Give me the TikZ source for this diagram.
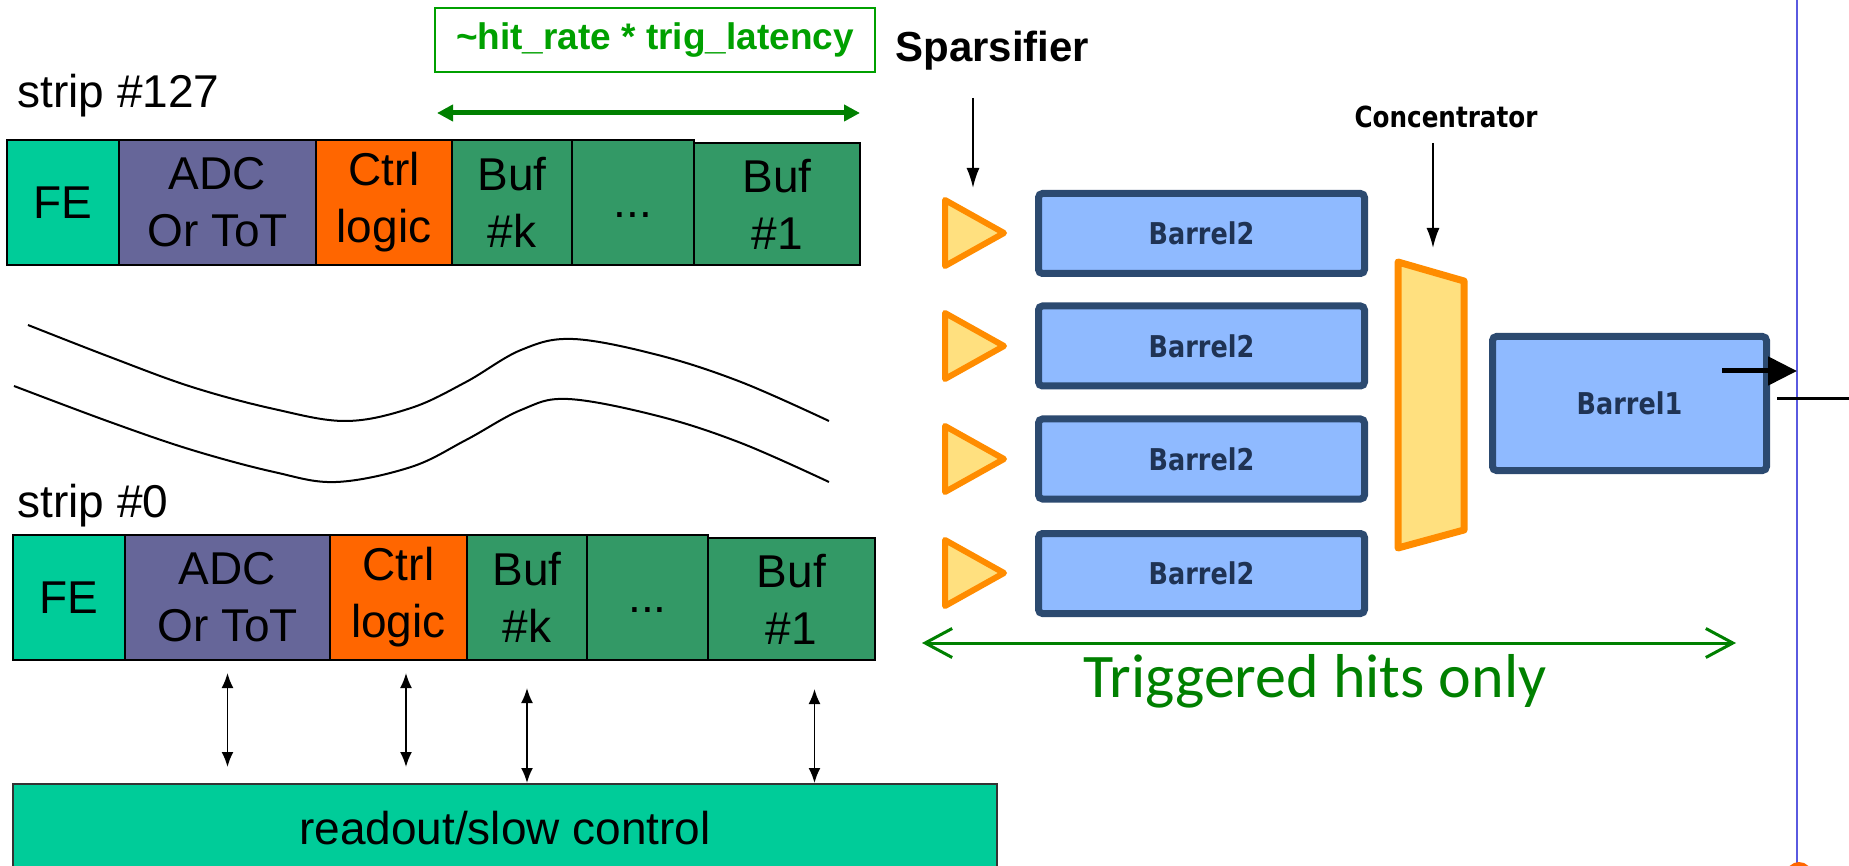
\documentclass[tikz,border=0pt]{standalone}
\usepackage{fontspec}
\setmainfont{Liberation Sans}
\newfontfamily\barrelfont[FakeStretch=0.85]{DejaVu Sans}
\newfontfamily\handfont{Carlito}
\usepackage{xcolor}
\definecolor{feGreen}{HTML}{00CC99}
\definecolor{adcPurple}{HTML}{666699}
\definecolor{ctrlOrange}{HTML}{FF6600}
\definecolor{bufGreen}{HTML}{339966}
\definecolor{latGreen}{HTML}{00A000}
\definecolor{trigGreen}{HTML}{008000}
\definecolor{ampEdge}{HTML}{FF8C00}
\definecolor{ampFill}{HTML}{FFE07F}
\definecolor{barrelEdge}{HTML}{2C4A70}
\definecolor{barrelFill}{HTML}{8FBAFF}
\definecolor{barrelText}{HTML}{1F3354}
\definecolor{guideBlue}{HTML}{5A5AE0}
\usepackage{tikz}
\usetikzlibrary{positioning,calc,arrows.meta}
\tikzset{%
  cellBox/.style={%
    rectangle,
    draw=black,
    line width=1pt,
    inner sep=0pt,
    outer sep=0pt,
    minimum height=62.5pt,
    align=center,
    font=\fontsize{23}{28.5}\selectfont
  },
  dotsText/.style={%
    text height=17pt,
    text depth=2pt
  },
  stripLabel/.style={%
    anchor=base west,
    inner sep=0pt,
    font=\fontsize{23}{28}\selectfont
  },
  latBox/.style={%
    rectangle,
    draw=latGreen,
    line width=1pt,
    inner sep=0pt,
    minimum width=220pt,
    minimum height=32pt,
    text=latGreen,
    font=\bfseries\fontsize{18.5}{22}\selectfont
  },
  barrelBox/.style={%
    rectangle,
    rounded corners=2pt,
    draw=barrelEdge,
    fill=barrelFill,
    line width=3.5pt,
    inner sep=0pt,
    minimum width=163pt,
    minimum height=40pt,
    text=barrelText,
    font=\barrelfont\bfseries\fontsize{15}{18}\selectfont
  },
  ampTri/.style={%
    draw=ampEdge,
    fill=ampFill,
    line width=3pt,
    line join=round
  },
  concShape/.style={%
    draw=ampEdge,
    fill=ampFill,
    line width=3.5pt,
    line join=round
  },
  readoutBox/.style={%
    rectangle,
    draw=black!80,
    line width=1pt,
    fill=feGreen,
    inner sep=0pt,
    minimum width=492pt,
    minimum height=50pt,
    text height=17.5pt,
    text depth=7.5pt,
    font=\fontsize{23}{28}\selectfont
  },
  waveLine/.style={%
    line width=1pt,
    draw=black
  },
  biArrow/.style={%
    {Latex[length=7.5pt,width=6pt]}-{Latex[length=7.5pt,width=6pt]},
    line width=0.9pt
  },
  latArrow/.style={%
    {Triangle[length=8pt,width=8pt]}-{Triangle[length=8pt,width=8pt]},
    line width=2.5pt,
    color=trigGreen
  },
  trigArrow/.style={%
    {Straight Barb[length=13.5pt,width=14.5pt]}-{Straight Barb[length=13.5pt,width=14.5pt]},
    line width=1.5pt,
    line cap=round,
    color=trigGreen
  },
  pointArrow/.style={%
    -{Latex[length=10pt,width=6.5pt]},
    line width=1pt
  },
  outArrow/.style={%
    -{Triangle[length=14.5pt,width=14pt]},
    line width=2.5pt
  }
}

\begin{document}
\begin{tikzpicture}[x=0.5pt, y=-0.5pt]
  \useasboundingbox (0,0) rectangle (1849,866);
  \clip (0,0) rectangle (1849,866);

  % strip #127
  \node[stripLabel] (lbl127) at (17,108) {strip \#127};
  \node[cellBox, fill=feGreen, minimum width=56pt, anchor=north west] (fe1) at (7,140) {FE};
  \node[cellBox, fill=adcPurple, minimum width=98.5pt, right=0pt of fe1] (adc1) {ADC\\Or ToT};
  \node[cellBox, fill=ctrlOrange, minimum width=68pt, right=0pt of adc1] (ctrl1) {Ctrl\\logic};
  \node[cellBox, fill=bufGreen, minimum width=60pt, right=0pt of ctrl1] (bufk1) {Buf\\\#k};
  \node[cellBox, dotsText, fill=bufGreen, minimum width=61pt, right=0pt of bufk1] (dots1) {...};
  \node[cellBox, fill=bufGreen, minimum width=83pt, minimum height=61pt, anchor=south west] (buf11) at (dots1.south east) {Buf\\\#1};

  % latency window
  \node[latBox] (latency) at (655,40.5) {\textasciitilde hit\_rate * trig\_latency};
  \coordinate (latL) at (437,113);
  \coordinate (latR) at (860,113);
  \draw[latArrow] (latL) -- (latR);

  % the strips in between
  \draw[waveLine] plot[smooth, tension=0.6] coordinates {(28,325) (110,357) (192,387) (274,409) (346,421) (411,408) (466,382) (521,350) (573,339) (658,355) (741,382) (829,421)};
  \draw[waveLine] plot[smooth, tension=0.6] coordinates {(14,386) (110,422) (192,450) (274,472) (336,482) (411,467) (466,440) (521,410) (568,399) (658,416) (741,443) (829,482)};

  % strip #0
  \node[stripLabel] (lbl0) at (17,517) {strip \#0};
  \node[cellBox, fill=feGreen, minimum width=56pt, anchor=north west] (fe0) at (13,535) {FE};
  \node[cellBox, fill=adcPurple, minimum width=102.5pt, right=0pt of fe0] (adc0) {ADC\\Or ToT};
  \node[cellBox, fill=ctrlOrange, minimum width=68.5pt, right=0pt of adc0] (ctrl0) {Ctrl\\logic};
  \node[cellBox, fill=bufGreen, minimum width=60pt, right=0pt of ctrl0] (bufk0) {Buf\\\#k};
  \node[cellBox, dotsText, fill=bufGreen, minimum width=60.5pt, right=0pt of bufk0] (dots0) {...};
  \node[cellBox, fill=bufGreen, minimum width=83.5pt, minimum height=61pt, anchor=south west] (buf10) at (dots0.south east) {Buf\\\#1};

  % readout
  \node[readoutBox, anchor=north west] (readout) at (12,783) {readout/slow control};
  \draw[biArrow] ($(adc0.south)+(0,-6.5pt)$) -- ($(adc0.south |- readout.north)+(0,8pt)$);
  \draw[biArrow] ($(ctrl0.south)+(3.75pt,-6.5pt)$) -- ($(ctrl0.south |- readout.north)+(3.75pt,8pt)$);
  \draw[biArrow] ($(bufk0.south)+(0,-14pt)$) -- (bufk0.south |- readout.north);
  \draw[biArrow] ($(buf10.south)+(11.5pt,-14.5pt)$) -- ($(buf10.south |- readout.north)+(11.5pt,0)$);

  % sparsifier side
  \node[anchor=base west, inner sep=0pt, font=\bfseries\fontsize{21}{25}\selectfont] (spars) at (895,62) {Sparsifier};
  \coordinate (sparsFrom) at (973,98);
  \coordinate (sparsTo) at (973,188);
  \draw[pointArrow] (sparsFrom) -- (sparsTo);

  \draw[ampTri] (945,200) -- (1004,233) -- (945,266) -- cycle;
  \draw[ampTri] (945,313) -- (1004,346) -- (945,379) -- cycle;
  \draw[ampTri] (945,426) -- (1004,459) -- (945,492) -- cycle;
  \draw[ampTri] (945,540) -- (1004,573) -- (945,606) -- cycle;

  \node[barrelBox] (b2a) at (1201.5,233.5) {Barrel2};
  \node[barrelBox] (b2b) at (1201.5,346) {Barrel2};
  \node[barrelBox] (b2c) at (1201.5,459) {Barrel2};
  \node[barrelBox] (b2d) at (1201.5,573.5) {Barrel2};

  \node[anchor=base, inner sep=0pt, font=\barrelfont\bfseries\fontsize{14.5}{17}\selectfont] (conc) at (1446,128) {Concentrator};
  \coordinate (concFrom) at (1433,143);
  \coordinate (concTo) at (1433,248);
  \draw[pointArrow] (concFrom) -- (concTo);
  \draw[concShape] (1398,262) -- (1464,281) -- (1464,530) -- (1398,548) -- cycle;

  \node[barrelBox, minimum width=137pt, minimum height=67pt] (b1) at (1629.5,403.5) {Barrel1};

  % output side
  \draw[guideBlue, line width=1pt] (1797,0) -- (1797,866);
  \coordinate (outFrom) at (1722,371);
  \coordinate (outTo) at (1797,371);
  \draw[outArrow] (outFrom) -- (outTo);
  \draw[line width=1.5pt] (1777,399) -- (1860,399);
  \fill[ctrlOrange] (1799,875) circle (13);

  % triggered hits
  \coordinate (trigL) at (922,643);
  \coordinate (trigR) at (1736,643);
  \draw[trigArrow] (trigL) -- (trigR);
  \node[anchor=base, inner sep=0pt, text=trigGreen, font=\handfont\fontsize{31}{36}\selectfont] (trigTxt) at (1315,697) {Triggered hits only};
\end{tikzpicture}
\end{document}
